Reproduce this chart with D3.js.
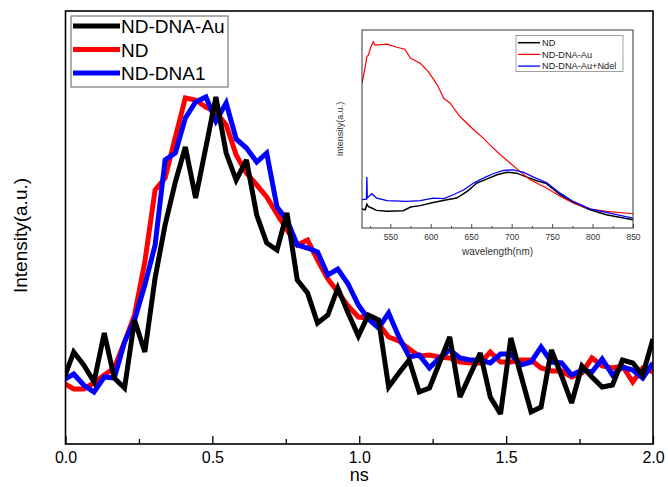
<!DOCTYPE html>
<html>
<head>
<meta charset="utf-8">
<script src="https://cdn.jsdelivr.net/npm/d3@7"></script>
<style>
  html, body { margin: 0; padding: 0; background: #fff; }
  svg { display: block; font-family: "Liberation Sans", Arial, sans-serif; }
</style>
</head>
<body>
<svg id="chart" width="668" height="487"></svg>
<script>
// ---- Time-resolved decay traces (ns, arbitrary intensity) ----
const times = [-0.007, 0.028, 0.062, 0.097, 0.132, 0.166, 0.201, 0.235, 0.270, 0.305,
  0.339, 0.374, 0.408, 0.443, 0.478, 0.512, 0.547, 0.581, 0.616, 0.651,
  0.685, 0.720, 0.754, 0.789, 0.824, 0.858, 0.893, 0.927, 0.962, 0.997,
  1.031, 1.066, 1.100, 1.135, 1.170, 1.204, 1.239, 1.273, 1.308, 1.343,
  1.377, 1.412, 1.446, 1.481, 1.516, 1.550, 1.585, 1.619, 1.654, 1.689,
  1.723, 1.758, 1.792, 1.827, 1.862, 1.896, 1.931, 1.965, 2.000];

const ndDnaAu = [60, 88, 75, 58, 107, 62, 52, 120, 88, 162,
  215, 258, 293, 242, 293, 343, 287, 260, 280, 225,
  197, 190, 227, 160, 147, 117, 125, 152, 127, 104,
  125, 120, 53, 67, 80, 48, 52, 77, 103, 43,
  65, 87, 43, 26, 102, 65, 28, 33, 90, 64,
  37, 74, 63, 53, 55, 80, 77, 65, 101];

const nd = [57, 51, 51, 57, 65, 72, 98, 125, 178, 250,
  262, 303, 342, 340, 333, 328, 315, 285, 267, 255,
  243, 226, 210, 195, 200, 180, 161, 148, 134, 123,
  122, 116, 103, 99, 91, 84, 85, 83, 82, 78,
  77, 77, 88, 78, 78, 80, 80, 72, 69, 69,
  63, 67, 82, 74, 72, 74, 58, 72, 68];

const ndDna1 = [60, 66, 55, 48, 63, 62, 98, 120, 155, 195,
  280, 287, 322, 338, 343, 319, 337, 301, 292, 278,
  287, 233, 220, 195, 192, 188, 165, 171, 156, 135,
  121, 112, 127, 103, 83, 85, 72, 82, 90, 82,
  80, 80, 77, 86, 86, 75, 78, 93, 78, 77,
  65, 70, 68, 81, 65, 73, 70, 62, 77];

const xTicks = [0, 0.5, 1.0, 1.5, 2.0];
const xMinorTicks = [0.25, 0.75, 1.25, 1.75];

// ---- Inset: emission spectra (wavelength nm, arbitrary intensity) ----
const specND = [[515, 9.6], [519, 9.2], [521, 12], [523, 10.8], [527, 10.1], [533, 8.9],
  [546, 8.4], [566, 8.7], [575, 10.6], [587, 11.3], [603, 12.9], [620, 14.3], [632, 15.1],
  [645, 18.5], [657, 22.7], [669, 24.7], [682, 26.9], [694, 28.2], [706, 27.7], [719, 25.7],
  [731, 23.9], [743, 22.4], [760, 16.8], [776, 12.9], [797, 9.2], [817, 6.7], [850, 4.2]];

const specNDDNAAu = [[515, 73.1], [519, 81.5], [521, 86.6], [523, 87.4], [526, 91.6],
  [529, 94.1], [531, 92.4], [546, 92.9], [558, 91.3], [568, 90.3], [575, 85.7], [587, 83.2],
  [597, 79], [608, 72.3], [616, 65.5], [624, 63], [636, 56.3], [653, 49.6], [665, 45.4],
  [673, 42], [686, 37], [698, 32.8], [710, 28.6], [723, 24.4], [735, 21.8], [743, 20.2],
  [760, 16], [776, 12.6], [797, 9.6], [817, 8.4], [850, 7.2]];

const specNdel = [[515, 14.3], [520.5, 14.6], [521, 25.7], [521.5, 15.1], [527, 17.3],
  [533, 15.1], [546, 13.8], [570, 13.4], [587, 13.8], [603, 15.1], [616, 14.8], [628, 16.8],
  [641, 19.3], [653, 22.7], [665, 25.2], [677, 27.4], [690, 29.1], [702, 29.4], [715, 28.1],
  [727, 25.7], [743, 23], [760, 17.6], [776, 13.4], [797, 9.7], [817, 7.9], [850, 5]];

const insetTicks = [550, 600, 650, 700, 750, 800, 850];
const insetMinorTicks = [525, 575, 625, 675, 725, 775, 825];

const mainSeries = [
  { name: "ND-DNA-Au", color: "#000000", values: ndDnaAu },
  { name: "ND", color: "#ff0000", values: nd },
  { name: "ND-DNA1", color: "#0000ff", values: ndDna1 }
];
const insetSeries = [
  { name: "ND", color: "#000000", values: specND, width: 1.5 },
  { name: "ND-DNA-Au", color: "#ff0000", values: specNDDNAAu, width: 1.2 },
  { name: "ND-DNA-Au+Ndel", color: "#0000ff", values: specNdel, width: 1.3 }
];

const svg = d3.select("#chart");

// ---------------- main plot ----------------
const M = { left: 65.5, right: 653, top: 11, bottom: 444 };
const x = d3.scaleLinear().domain([0, 2]).range([M.left, M.right]);
const y = d3.scaleLinear().domain([-4, 429]).range([M.bottom, M.top]);

svg.append("clipPath").attr("id", "plotClip")
  .append("rect")
  .attr("x", M.left).attr("y", M.top)
  .attr("width", M.right - M.left).attr("height", M.bottom - M.top);

const line = d3.line().x((d, i) => x(times[i])).y(d => y(d));

// draw red, blue, then black on top
const drawOrder = [1, 2, 0];
const lines = svg.append("g").attr("clip-path", "url(#plotClip)");
drawOrder.forEach(k => {
  const s = mainSeries[k];
  lines.append("path")
    .attr("d", line(s.values))
    .attr("fill", "none")
    .attr("stroke", s.color)
    .attr("stroke-width", 5)
    .attr("stroke-linejoin", "miter")
    .attr("stroke-miterlimit", 3);
});

// x axis, ticks pointing inward
const xAxis = svg.append("g").attr("transform", `translate(0,${M.bottom})`)
  .call(d3.axisBottom(x).tickValues(xTicks).tickFormat(d3.format(".1f"))
    .tickSizeInner(-8).tickSizeOuter(0).tickPadding(8));
xAxis.select(".domain").remove();
xAxis.selectAll("line").attr("stroke", "#000").attr("stroke-width", 1.3);
xAxis.selectAll("text").attr("font-size", 16).attr("fill", "#000")
  .attr("font-family", "Liberation Sans, Arial, sans-serif");

const xMinor = svg.append("g").attr("transform", `translate(0,${M.bottom})`)
  .call(d3.axisBottom(x).tickValues(xMinorTicks).tickFormat("").tickSizeInner(-5).tickSizeOuter(0));
xMinor.select(".domain").remove();
xMinor.selectAll("line").attr("stroke", "#000").attr("stroke-width", 1.3);

// frame
svg.append("rect")
  .attr("x", M.left).attr("y", M.top)
  .attr("width", M.right - M.left).attr("height", M.bottom - M.top)
  .attr("fill", "none").attr("stroke", "#000").attr("stroke-width", 1.6);

// axis titles
svg.append("text")
  .attr("x", (M.left + M.right) / 2).attr("y", 481)
  .attr("text-anchor", "middle").attr("font-size", 18).attr("fill", "#000")
  .text("ns");
svg.append("text")
  .attr("transform", `translate(27,${(M.top + M.bottom) / 2 + 8}) rotate(-90)`)
  .attr("text-anchor", "middle").attr("font-size", 19).attr("fill", "#000")
  .text("Intensity(a.u.)");

// legend
const leg = svg.append("g");
leg.append("rect")
  .attr("x", 71).attr("y", 16).attr("width", 157).attr("height", 71)
  .attr("fill", "#fff").attr("stroke", "#777").attr("stroke-width", 1.2);
mainSeries.forEach((s, i) => {
  const ly = 26 + i * 23.5;
  leg.append("line")
    .attr("x1", 73).attr("x2", 120).attr("y1", ly).attr("y2", ly)
    .attr("stroke", s.color).attr("stroke-width", 5);
  leg.append("text")
    .attr("x", 121).attr("y", ly + 7)
    .attr("font-size", 19).attr("fill", "#000")
    .text(s.name);
});

// ---------------- inset ----------------
const I = { left: 362, right: 633, top: 30, bottom: 228 };
const xi = d3.scaleLinear().domain([515, 850]).range([I.left, I.right]);
const yi = d3.scaleLinear().domain([0, 100]).range([I.bottom, I.top]);

svg.append("clipPath").attr("id", "insetClip")
  .append("rect")
  .attr("x", I.left).attr("y", I.top)
  .attr("width", I.right - I.left).attr("height", I.bottom - I.top);

const iline = d3.line().x(d => xi(d[0])).y(d => yi(d[1]));
const ig = svg.append("g").attr("clip-path", "url(#insetClip)");
insetSeries.forEach(s => {
  ig.append("path")
    .attr("d", iline(s.values))
    .attr("fill", "none")
    .attr("stroke", s.color)
    .attr("stroke-width", s.width);
});

const iAxis = svg.append("g").attr("transform", `translate(0,${I.bottom})`)
  .call(d3.axisBottom(xi).tickValues(insetTicks).tickFormat(d3.format("d"))
    .tickSizeInner(-4).tickSizeOuter(0).tickPadding(6));
iAxis.select(".domain").remove();
iAxis.selectAll("line").attr("stroke", "#222").attr("stroke-width", 0.8);
iAxis.selectAll("text").attr("font-size", 8.5).attr("fill", "#333")
  .attr("font-family", "Liberation Sans, Arial, sans-serif");
const iMinor = svg.append("g").attr("transform", `translate(0,${I.bottom})`)
  .call(d3.axisBottom(xi).tickValues(insetMinorTicks).tickFormat("").tickSizeInner(-2).tickSizeOuter(0));
iMinor.select(".domain").remove();
iMinor.selectAll("line").attr("stroke", "#222").attr("stroke-width", 0.8);

svg.append("rect")
  .attr("x", I.left).attr("y", I.top)
  .attr("width", I.right - I.left).attr("height", I.bottom - I.top)
  .attr("fill", "none").attr("stroke", "#333").attr("stroke-width", 1);

svg.append("text")
  .attr("x", (I.left + I.right) / 2).attr("y", 255)
  .attr("text-anchor", "middle").attr("font-size", 10).attr("fill", "#333")
  .text("wavelength(nm)");
svg.append("text")
  .attr("transform", `translate(343,${(I.top + I.bottom) / 2}) rotate(-90)`)
  .attr("text-anchor", "middle").attr("font-size", 9).attr("fill", "#333")
  .text("Intensity(a.u.)");

const ileg = svg.append("g");
ileg.append("rect")
  .attr("x", 516).attr("y", 35.5).attr("width", 107).attr("height", 36)
  .attr("fill", "#fff").attr("stroke", "#888").attr("stroke-width", 0.8);
insetSeries.forEach((s, i) => {
  const ly = 42.7 + i * 11.7;
  ileg.append("line")
    .attr("x1", 518).attr("x2", 540).attr("y1", ly).attr("y2", ly)
    .attr("stroke", s.color).attr("stroke-width", s.width);
  ileg.append("text")
    .attr("x", 542).attr("y", ly + 3.3)
    .attr("font-size", 9.2).attr("fill", "#222")
    .text(s.name);
});
</script>
</body>
</html>
